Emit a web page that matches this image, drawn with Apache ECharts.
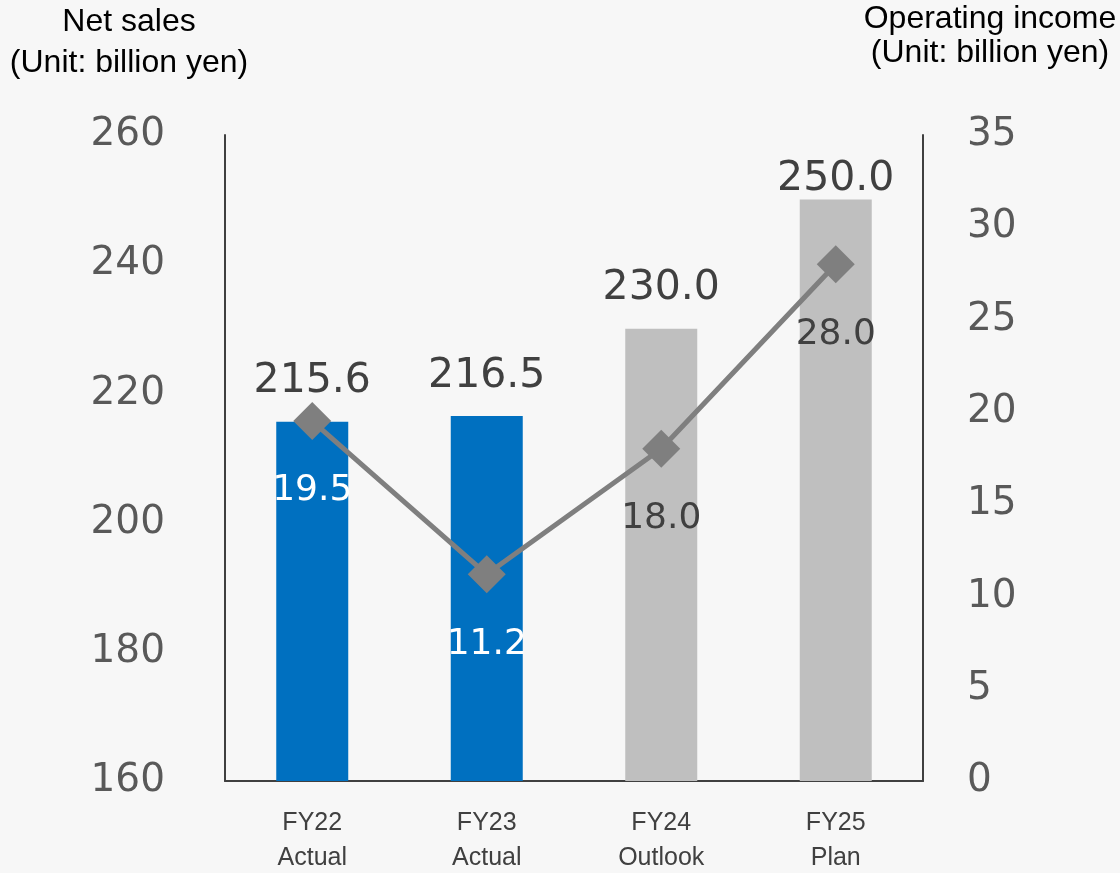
<!DOCTYPE html>
<html>
<head>
<meta charset="utf-8">
<script src="https://cdn.jsdelivr.net/npm/echarts@6/dist/echarts.min.js"></script>
<style>
  html, body { margin: 0; padding: 0; background: #f7f7f7; }
  #chart { width: 1120px; height: 873px; }
</style>
</head>
<body>
<div id="chart"></div>
<script>
// Fiscal years shown on the category axis
const categories = ['FY22\nActual', 'FY23\nActual', 'FY24\nOutlook', 'FY25\nPlan'];
// Net sales (billion yen), bars on the left axis
const netSales = [215.6, 216.5, 230.0, 250.0];
// Operating income (billion yen), line on the right axis
const operatingIncome = [19.5, 11.2, 18.0, 28.0];

const actualBlue = '#0070c0';
const planGray = '#bfbfbf';
const numFont = "'DejaVu Sans', Verdana, sans-serif";
const textFont = "'Liberation Sans', Arial, sans-serif";
const titleFont = "32px 'Liberation Sans', Arial, sans-serif";

const chart = echarts.init(document.getElementById('chart'));

// Actual years in blue, outlook/plan in gray; the tallest bar keeps its label close to the top
const barData = netSales.map((v, i) => ({
  value: v,
  itemStyle: { color: i < 2 ? actualBlue : planGray },
  label: { distance: i === 3 ? 5 : 25 }
}));

// Labels sitting on the blue bars are white
const lineData = operatingIncome.map((v, i) => ({
  value: v,
  label: { color: i < 2 ? '#ffffff' : '#404040' }
}));

function titleText(text, x, y) {
  return {
    type: 'text', x: x, y: y,
    style: { text: text, font: titleFont, fill: '#000', textAlign: 'center', textVerticalAlign: 'middle' }
  };
}

chart.setOption({
  backgroundColor: '#f7f7f7',
  animation: false,
  grid: { left: 225, right: 197, top: 135, bottom: 92, containLabel: false, outerBoundsMode: 'none' },
  graphic: [
    titleText('Net sales', 129, 22),
    titleText('(Unit: billion yen)', 129, 63),
    titleText('Operating income', 990, 19),
    titleText('(Unit: billion yen)', 990, 53)
  ],
  xAxis: {
    type: 'category',
    data: categories,
    axisLine: { lineStyle: { color: '#404040', width: 2 } },
    axisTick: { show: false },
    axisLabel: {
      margin: 25,
      fontFamily: textFont,
      fontSize: 25,
      lineHeight: 35,
      color: '#404040'
    }
  },
  yAxis: [
    {
      type: 'value',
      min: 160,
      max: 260,
      interval: 20,
      splitLine: { show: false },
      axisTick: { show: false },
      axisLine: { show: true, lineStyle: { color: '#404040', width: 2 } },
      axisLabel: { margin: 60, fontFamily: numFont, fontSize: 39, color: '#595959' }
    },
    {
      type: 'value',
      min: 0,
      max: 35,
      interval: 5,
      splitLine: { show: false },
      axisTick: { show: false },
      axisLine: { show: true, lineStyle: { color: '#404040', width: 2 } },
      axisLabel: { margin: 44, fontFamily: numFont, fontSize: 39, color: '#595959' }
    }
  ],
  series: [
    {
      name: 'Net sales',
      type: 'bar',
      yAxisIndex: 0,
      barWidth: 72,
      data: barData,
      label: {
        show: true,
        position: 'top',
        fontFamily: numFont,
        fontSize: 41,
        lineHeight: 30,
        color: '#404040',
        formatter: p => p.value.toFixed(1)
      }
    },
    {
      name: 'Operating income',
      type: 'line',
      yAxisIndex: 1,
      data: lineData,
      symbol: 'diamond',
      symbolSize: [38, 38],
      lineStyle: { color: '#7f7f7f', width: 5 },
      itemStyle: { color: '#7f7f7f' },
      label: {
        show: true,
        position: 'bottom',
        distance: 37,
        fontFamily: numFont,
        fontSize: 36,
        lineHeight: 28,
        formatter: p => p.value.toFixed(1)
      }
    }
  ]
});
</script>
</body>
</html>
